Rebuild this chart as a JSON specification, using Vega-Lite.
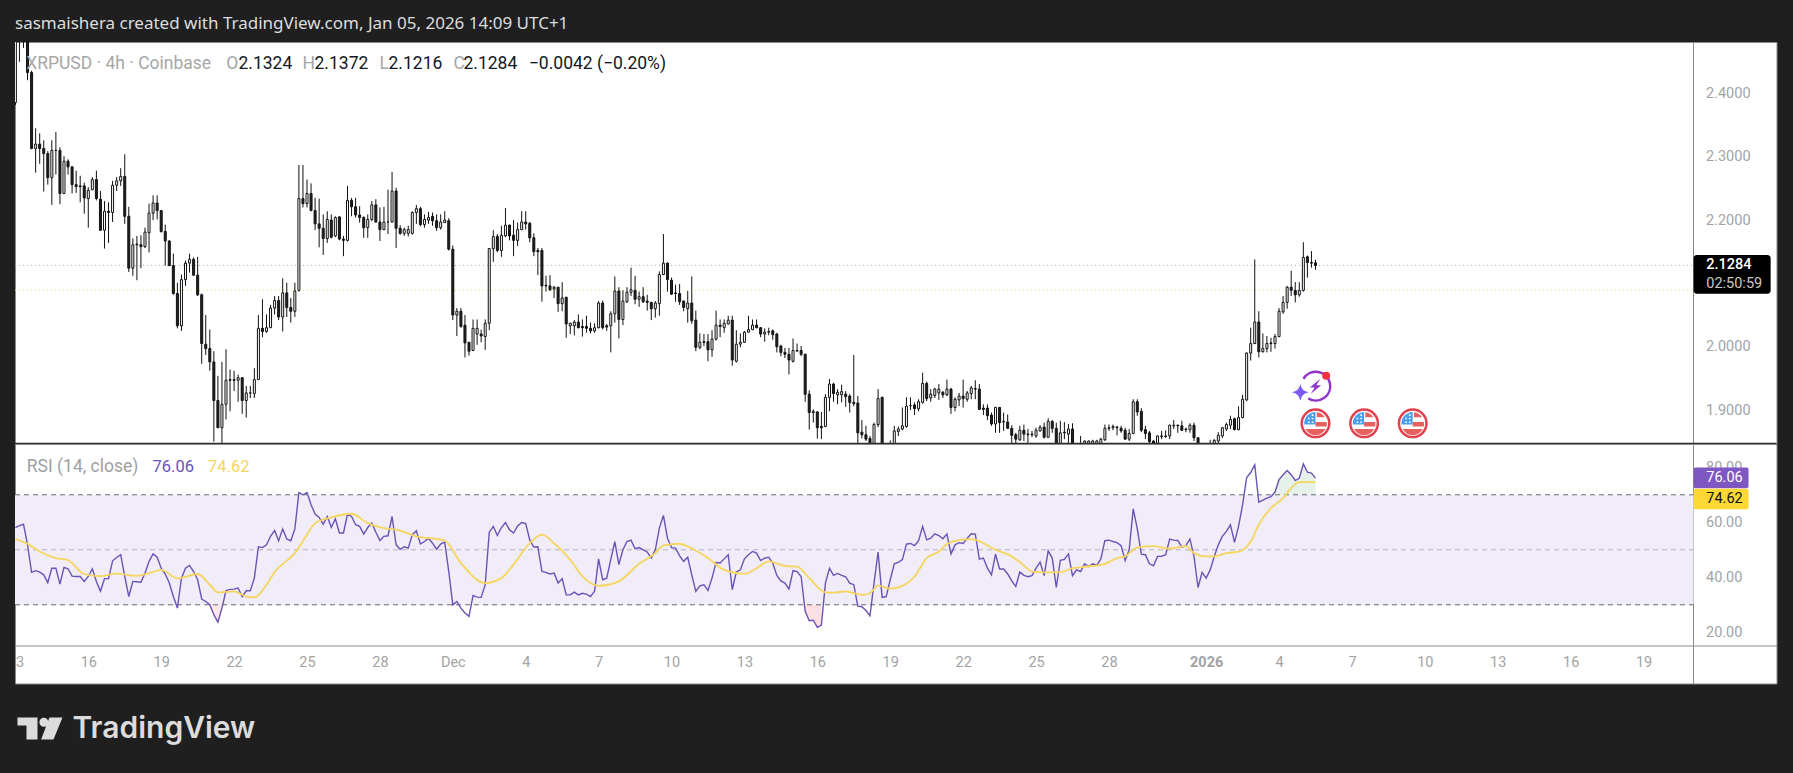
{
"$schema":"https://vega.github.io/schema/vega-lite/v6.json",
"background":"#1f1f1f",
"padding":{"left":11,"top":14,"right":16.5,"bottom":28},
"bounds":"flush",
"spacing":0,
"config":{"view":{"stroke":"#8a8a8a","fill":"#ffffff"},"font":"Roboto"},
"datasets":{
"candles":[
{"t":"2025-11-13T00:00Z","o":2.3855,"h":2.52,"l":2.3818,"c":2.5,"rsi":58.1},
{"t":"2025-11-13T04:00Z","o":2.5,"h":2.52,"l":2.45,"c":2.49,"rsi":58.8},
{"t":"2025-11-13T08:00Z","o":2.51,"h":2.52,"l":2.472,"c":2.5,"rsi":59.3},
{"t":"2025-11-13T12:00Z","o":2.5,"h":2.51,"l":2.421,"c":2.433,"rsi":51.8},
{"t":"2025-11-13T16:00Z","o":2.433,"h":2.436,"l":2.312,"c":2.313,"rsi":41.8},
{"t":"2025-11-13T20:00Z","o":2.313,"h":2.345,"l":2.275,"c":2.32,"rsi":42.4},
{"t":"2025-11-14T00:00Z","o":2.32,"h":2.337,"l":2.289,"c":2.313,"rsi":41.9},
{"t":"2025-11-14T04:00Z","o":2.313,"h":2.326,"l":2.245,"c":2.305,"rsi":40.9},
{"t":"2025-11-14T08:00Z","o":2.305,"h":2.309,"l":2.256,"c":2.267,"rsi":38.1},
{"t":"2025-11-14T12:00Z","o":2.267,"h":2.326,"l":2.224,"c":2.31,"rsi":43.3},
{"t":"2025-11-14T16:00Z","o":2.31,"h":2.339,"l":2.272,"c":2.31,"rsi":43.3},
{"t":"2025-11-14T20:00Z","o":2.31,"h":2.315,"l":2.225,"c":2.242,"rsi":37.5},
{"t":"2025-11-15T00:00Z","o":2.242,"h":2.301,"l":2.241,"c":2.293,"rsi":43.6},
{"t":"2025-11-15T04:00Z","o":2.293,"h":2.296,"l":2.272,"c":2.284,"rsi":43.1},
{"t":"2025-11-15T08:00Z","o":2.284,"h":2.285,"l":2.242,"c":2.256,"rsi":40.4},
{"t":"2025-11-15T12:00Z","o":2.256,"h":2.278,"l":2.243,"c":2.253,"rsi":40.3},
{"t":"2025-11-15T16:00Z","o":2.254,"h":2.27,"l":2.228,"c":2.253,"rsi":40.3},
{"t":"2025-11-15T20:00Z","o":2.254,"h":2.259,"l":2.21,"c":2.235,"rsi":38.5},
{"t":"2025-11-16T00:00Z","o":2.234,"h":2.252,"l":2.188,"c":2.247,"rsi":40.3},
{"t":"2025-11-16T04:00Z","o":2.248,"h":2.268,"l":2.247,"c":2.264,"rsi":43.1},
{"t":"2025-11-16T08:00Z","o":2.264,"h":2.278,"l":2.231,"c":2.234,"rsi":38.5},
{"t":"2025-11-16T12:00Z","o":2.233,"h":2.246,"l":2.183,"c":2.184,"rsi":34.9},
{"t":"2025-11-16T16:00Z","o":2.184,"h":2.23,"l":2.155,"c":2.214,"rsi":39.5},
{"t":"2025-11-16T20:00Z","o":2.214,"h":2.228,"l":2.164,"c":2.212,"rsi":39.5},
{"t":"2025-11-17T00:00Z","o":2.212,"h":2.262,"l":2.197,"c":2.255,"rsi":46.0},
{"t":"2025-11-17T04:00Z","o":2.255,"h":2.268,"l":2.246,"c":2.262,"rsi":47.2},
{"t":"2025-11-17T08:00Z","o":2.262,"h":2.282,"l":2.254,"c":2.269,"rsi":48.2},
{"t":"2025-11-17T12:00Z","o":2.269,"h":2.304,"l":2.194,"c":2.206,"rsi":40.3},
{"t":"2025-11-17T16:00Z","o":2.206,"h":2.221,"l":2.118,"c":2.124,"rsi":33.0},
{"t":"2025-11-17T20:00Z","o":2.124,"h":2.171,"l":2.112,"c":2.161,"rsi":38.5},
{"t":"2025-11-18T00:00Z","o":2.162,"h":2.175,"l":2.105,"c":2.161,"rsi":38.4},
{"t":"2025-11-18T04:00Z","o":2.161,"h":2.176,"l":2.124,"c":2.158,"rsi":38.2},
{"t":"2025-11-18T08:00Z","o":2.158,"h":2.188,"l":2.156,"c":2.181,"rsi":41.5},
{"t":"2025-11-18T12:00Z","o":2.18,"h":2.226,"l":2.149,"c":2.211,"rsi":45.8},
{"t":"2025-11-18T16:00Z","o":2.211,"h":2.239,"l":2.2,"c":2.227,"rsi":48.5},
{"t":"2025-11-18T20:00Z","o":2.227,"h":2.239,"l":2.201,"c":2.215,"rsi":47.3},
{"t":"2025-11-19T00:00Z","o":2.215,"h":2.215,"l":2.18,"c":2.182,"rsi":43.3},
{"t":"2025-11-19T04:00Z","o":2.182,"h":2.193,"l":2.128,"c":2.167,"rsi":41.2},
{"t":"2025-11-19T08:00Z","o":2.167,"h":2.168,"l":2.128,"c":2.128,"rsi":37.9},
{"t":"2025-11-19T12:00Z","o":2.128,"h":2.147,"l":2.082,"c":2.084,"rsi":33.0},
{"t":"2025-11-19T16:00Z","o":2.084,"h":2.101,"l":2.029,"c":2.033,"rsi":28.8},
{"t":"2025-11-19T20:00Z","o":2.033,"h":2.114,"l":2.025,"c":2.106,"rsi":39.7},
{"t":"2025-11-20T00:00Z","o":2.106,"h":2.136,"l":2.096,"c":2.132,"rsi":43.3},
{"t":"2025-11-20T04:00Z","o":2.132,"h":2.147,"l":2.117,"c":2.138,"rsi":44.3},
{"t":"2025-11-20T08:00Z","o":2.138,"h":2.141,"l":2.112,"c":2.113,"rsi":42.1},
{"t":"2025-11-20T12:00Z","o":2.113,"h":2.142,"l":2.08,"c":2.082,"rsi":39.1},
{"t":"2025-11-20T16:00Z","o":2.082,"h":2.084,"l":1.973,"c":2.005,"rsi":32.1},
{"t":"2025-11-20T20:00Z","o":2.004,"h":2.05,"l":1.987,"c":1.997,"rsi":31.2},
{"t":"2025-11-21T00:00Z","o":1.997,"h":2.027,"l":1.962,"c":1.976,"rsi":30.0},
{"t":"2025-11-21T04:00Z","o":1.976,"h":1.993,"l":1.85,"c":1.915,"rsi":26.4},
{"t":"2025-11-21T08:00Z","o":1.915,"h":1.954,"l":1.872,"c":1.872,"rsi":23.7},
{"t":"2025-11-21T12:00Z","o":1.872,"h":1.976,"l":1.848,"c":1.909,"rsi":28.8},
{"t":"2025-11-21T16:00Z","o":1.909,"h":1.996,"l":1.885,"c":1.947,"rsi":35.2},
{"t":"2025-11-21T20:00Z","o":1.948,"h":1.964,"l":1.898,"c":1.947,"rsi":35.6},
{"t":"2025-11-22T00:00Z","o":1.948,"h":1.962,"l":1.93,"c":1.947,"rsi":35.7},
{"t":"2025-11-22T04:00Z","o":1.947,"h":1.956,"l":1.913,"c":1.951,"rsi":36.1},
{"t":"2025-11-22T08:00Z","o":1.951,"h":1.952,"l":1.894,"c":1.915,"rsi":33.0},
{"t":"2025-11-22T12:00Z","o":1.915,"h":1.938,"l":1.888,"c":1.927,"rsi":35.1},
{"t":"2025-11-22T16:00Z","o":1.927,"h":1.938,"l":1.919,"c":1.927,"rsi":35.1},
{"t":"2025-11-22T20:00Z","o":1.926,"h":1.966,"l":1.919,"c":1.948,"rsi":39.7},
{"t":"2025-11-23T00:00Z","o":1.948,"h":2.05,"l":1.948,"c":2.029,"rsi":51.1},
{"t":"2025-11-23T04:00Z","o":2.029,"h":2.075,"l":2.015,"c":2.024,"rsi":50.8},
{"t":"2025-11-23T08:00Z","o":2.024,"h":2.051,"l":2.022,"c":2.03,"rsi":51.8},
{"t":"2025-11-23T12:00Z","o":2.03,"h":2.066,"l":2.03,"c":2.061,"rsi":54.9},
{"t":"2025-11-23T16:00Z","o":2.061,"h":2.08,"l":2.051,"c":2.073,"rsi":57.0},
{"t":"2025-11-23T20:00Z","o":2.073,"h":2.08,"l":2.042,"c":2.047,"rsi":53.3},
{"t":"2025-11-24T00:00Z","o":2.047,"h":2.108,"l":2.024,"c":2.085,"rsi":57.6},
{"t":"2025-11-24T04:00Z","o":2.085,"h":2.101,"l":2.047,"c":2.062,"rsi":53.9},
{"t":"2025-11-24T08:00Z","o":2.062,"h":2.077,"l":2.038,"c":2.056,"rsi":53.3},
{"t":"2025-11-24T12:00Z","o":2.056,"h":2.101,"l":2.047,"c":2.088,"rsi":57.6},
{"t":"2025-11-24T16:00Z","o":2.089,"h":2.287,"l":2.087,"c":2.234,"rsi":70.8},
{"t":"2025-11-24T20:00Z","o":2.234,"h":2.287,"l":2.22,"c":2.226,"rsi":70.0},
{"t":"2025-11-25T00:00Z","o":2.226,"h":2.264,"l":2.22,"c":2.242,"rsi":70.8},
{"t":"2025-11-25T04:00Z","o":2.242,"h":2.258,"l":2.214,"c":2.215,"rsi":66.4},
{"t":"2025-11-25T08:00Z","o":2.215,"h":2.235,"l":2.184,"c":2.194,"rsi":63.0},
{"t":"2025-11-25T12:00Z","o":2.194,"h":2.234,"l":2.157,"c":2.187,"rsi":61.8},
{"t":"2025-11-25T16:00Z","o":2.187,"h":2.209,"l":2.145,"c":2.171,"rsi":59.3},
{"t":"2025-11-25T20:00Z","o":2.171,"h":2.214,"l":2.164,"c":2.201,"rsi":62.1},
{"t":"2025-11-26T00:00Z","o":2.2,"h":2.209,"l":2.171,"c":2.173,"rsi":58.1},
{"t":"2025-11-26T04:00Z","o":2.175,"h":2.206,"l":2.173,"c":2.204,"rsi":61.3},
{"t":"2025-11-26T08:00Z","o":2.205,"h":2.206,"l":2.168,"c":2.17,"rsi":56.1},
{"t":"2025-11-26T12:00Z","o":2.17,"h":2.175,"l":2.143,"c":2.168,"rsi":56.1},
{"t":"2025-11-26T16:00Z","o":2.168,"h":2.254,"l":2.166,"c":2.231,"rsi":63.0},
{"t":"2025-11-26T20:00Z","o":2.231,"h":2.235,"l":2.206,"c":2.221,"rsi":62.1},
{"t":"2025-11-27T00:00Z","o":2.221,"h":2.235,"l":2.204,"c":2.208,"rsi":59.1},
{"t":"2025-11-27T04:00Z","o":2.208,"h":2.222,"l":2.196,"c":2.204,"rsi":58.5},
{"t":"2025-11-27T08:00Z","o":2.204,"h":2.206,"l":2.172,"c":2.188,"rsi":55.7},
{"t":"2025-11-27T12:00Z","o":2.188,"h":2.209,"l":2.172,"c":2.201,"rsi":58.1},
{"t":"2025-11-27T16:00Z","o":2.201,"h":2.23,"l":2.198,"c":2.224,"rsi":59.7},
{"t":"2025-11-27T20:00Z","o":2.224,"h":2.233,"l":2.196,"c":2.197,"rsi":56.4},
{"t":"2025-11-28T00:00Z","o":2.197,"h":2.22,"l":2.167,"c":2.185,"rsi":53.4},
{"t":"2025-11-28T04:00Z","o":2.185,"h":2.221,"l":2.184,"c":2.197,"rsi":54.9},
{"t":"2025-11-28T08:00Z","o":2.197,"h":2.248,"l":2.178,"c":2.197,"rsi":55.1},
{"t":"2025-11-28T12:00Z","o":2.197,"h":2.276,"l":2.196,"c":2.246,"rsi":62.1},
{"t":"2025-11-28T16:00Z","o":2.246,"h":2.251,"l":2.156,"c":2.187,"rsi":51.8},
{"t":"2025-11-28T20:00Z","o":2.187,"h":2.192,"l":2.177,"c":2.179,"rsi":50.2},
{"t":"2025-11-29T00:00Z","o":2.179,"h":2.188,"l":2.175,"c":2.185,"rsi":51.1},
{"t":"2025-11-29T04:00Z","o":2.179,"h":2.191,"l":2.174,"c":2.185,"rsi":50.6},
{"t":"2025-11-29T08:00Z","o":2.179,"h":2.214,"l":2.177,"c":2.212,"rsi":55.5},
{"t":"2025-11-29T12:00Z","o":2.212,"h":2.224,"l":2.194,"c":2.218,"rsi":56.9},
{"t":"2025-11-29T16:00Z","o":2.218,"h":2.221,"l":2.19,"c":2.193,"rsi":52.1},
{"t":"2025-11-29T20:00Z","o":2.193,"h":2.209,"l":2.188,"c":2.201,"rsi":53.0},
{"t":"2025-11-30T00:00Z","o":2.2,"h":2.213,"l":2.194,"c":2.204,"rsi":54.2},
{"t":"2025-11-30T04:00Z","o":2.206,"h":2.212,"l":2.191,"c":2.199,"rsi":52.4},
{"t":"2025-11-30T08:00Z","o":2.199,"h":2.209,"l":2.183,"c":2.188,"rsi":50.2},
{"t":"2025-11-30T12:00Z","o":2.188,"h":2.209,"l":2.185,"c":2.197,"rsi":52.1},
{"t":"2025-11-30T16:00Z","o":2.196,"h":2.214,"l":2.196,"c":2.2,"rsi":52.8},
{"t":"2025-11-30T20:00Z","o":2.199,"h":2.203,"l":2.152,"c":2.154,"rsi":42.1},
{"t":"2025-12-01T00:00Z","o":2.154,"h":2.16,"l":2.042,"c":2.05,"rsi":30.0},
{"t":"2025-12-01T04:00Z","o":2.05,"h":2.061,"l":2.017,"c":2.056,"rsi":31.2},
{"t":"2025-12-01T08:00Z","o":2.056,"h":2.061,"l":2.03,"c":2.032,"rsi":28.8},
{"t":"2025-12-01T12:00Z","o":2.034,"h":2.05,"l":1.983,"c":2.006,"rsi":27.0},
{"t":"2025-12-01T16:00Z","o":2.007,"h":2.007,"l":1.986,"c":1.993,"rsi":25.8},
{"t":"2025-12-01T20:00Z","o":1.994,"h":2.043,"l":1.993,"c":2.029,"rsi":33.4},
{"t":"2025-12-02T00:00Z","o":2.02,"h":2.043,"l":2.003,"c":2.029,"rsi":32.8},
{"t":"2025-12-02T04:00Z","o":2.02,"h":2.027,"l":2.007,"c":2.017,"rsi":32.7},
{"t":"2025-12-02T08:00Z","o":2.016,"h":2.043,"l":1.995,"c":2.037,"rsi":37.3},
{"t":"2025-12-02T12:00Z","o":2.037,"h":2.156,"l":2.026,"c":2.155,"rsi":56.4},
{"t":"2025-12-02T16:00Z","o":2.155,"h":2.184,"l":2.134,"c":2.174,"rsi":58.5},
{"t":"2025-12-02T20:00Z","o":2.174,"h":2.178,"l":2.149,"c":2.152,"rsi":55.2},
{"t":"2025-12-03T00:00Z","o":2.152,"h":2.191,"l":2.142,"c":2.176,"rsi":58.1},
{"t":"2025-12-03T04:00Z","o":2.175,"h":2.219,"l":2.173,"c":2.192,"rsi":59.9},
{"t":"2025-12-03T08:00Z","o":2.192,"h":2.193,"l":2.168,"c":2.175,"rsi":57.3},
{"t":"2025-12-03T12:00Z","o":2.176,"h":2.2,"l":2.143,"c":2.168,"rsi":56.1},
{"t":"2025-12-03T16:00Z","o":2.168,"h":2.196,"l":2.159,"c":2.185,"rsi":58.7},
{"t":"2025-12-03T20:00Z","o":2.185,"h":2.214,"l":2.184,"c":2.197,"rsi":59.9},
{"t":"2025-12-04T00:00Z","o":2.197,"h":2.214,"l":2.185,"c":2.194,"rsi":59.5},
{"t":"2025-12-04T04:00Z","o":2.195,"h":2.197,"l":2.165,"c":2.172,"rsi":53.6},
{"t":"2025-12-04T08:00Z","o":2.172,"h":2.179,"l":2.143,"c":2.15,"rsi":51.0},
{"t":"2025-12-04T12:00Z","o":2.152,"h":2.156,"l":2.113,"c":2.15,"rsi":51.1},
{"t":"2025-12-04T16:00Z","o":2.152,"h":2.156,"l":2.071,"c":2.096,"rsi":42.1},
{"t":"2025-12-04T20:00Z","o":2.097,"h":2.112,"l":2.087,"c":2.096,"rsi":41.8},
{"t":"2025-12-05T00:00Z","o":2.096,"h":2.113,"l":2.088,"c":2.09,"rsi":41.2},
{"t":"2025-12-05T04:00Z","o":2.091,"h":2.096,"l":2.077,"c":2.094,"rsi":41.5},
{"t":"2025-12-05T08:00Z","o":2.094,"h":2.094,"l":2.055,"c":2.068,"rsi":37.9},
{"t":"2025-12-05T12:00Z","o":2.068,"h":2.102,"l":2.056,"c":2.077,"rsi":39.5},
{"t":"2025-12-05T16:00Z","o":2.078,"h":2.079,"l":2.014,"c":2.036,"rsi":33.6},
{"t":"2025-12-05T20:00Z","o":2.033,"h":2.038,"l":2.02,"c":2.037,"rsi":33.6},
{"t":"2025-12-06T00:00Z","o":2.033,"h":2.042,"l":2.018,"c":2.039,"rsi":34.6},
{"t":"2025-12-06T04:00Z","o":2.039,"h":2.051,"l":2.029,"c":2.03,"rsi":33.6},
{"t":"2025-12-06T08:00Z","o":2.032,"h":2.043,"l":2.016,"c":2.03,"rsi":34.2},
{"t":"2025-12-06T12:00Z","o":2.032,"h":2.049,"l":2.022,"c":2.029,"rsi":33.9},
{"t":"2025-12-06T16:00Z","o":2.029,"h":2.038,"l":2.021,"c":2.025,"rsi":33.0},
{"t":"2025-12-06T20:00Z","o":2.025,"h":2.037,"l":2.022,"c":2.03,"rsi":34.9},
{"t":"2025-12-07T00:00Z","o":2.03,"h":2.072,"l":2.029,"c":2.069,"rsi":46.7},
{"t":"2025-12-07T04:00Z","o":2.069,"h":2.073,"l":2.027,"c":2.03,"rsi":39.1},
{"t":"2025-12-07T08:00Z","o":2.033,"h":2.036,"l":2.025,"c":2.031,"rsi":39.7},
{"t":"2025-12-07T12:00Z","o":2.033,"h":2.056,"l":1.991,"c":2.052,"rsi":46.4},
{"t":"2025-12-07T16:00Z","o":2.052,"h":2.111,"l":2.038,"c":2.088,"rsi":53.0},
{"t":"2025-12-07T20:00Z","o":2.088,"h":2.094,"l":2.013,"c":2.043,"rsi":44.6},
{"t":"2025-12-08T00:00Z","o":2.043,"h":2.089,"l":2.034,"c":2.072,"rsi":50.0},
{"t":"2025-12-08T04:00Z","o":2.071,"h":2.094,"l":2.069,"c":2.086,"rsi":53.0},
{"t":"2025-12-08T08:00Z","o":2.086,"h":2.125,"l":2.08,"c":2.09,"rsi":53.5},
{"t":"2025-12-08T12:00Z","o":2.089,"h":2.112,"l":2.067,"c":2.075,"rsi":50.4},
{"t":"2025-12-08T16:00Z","o":2.075,"h":2.087,"l":2.063,"c":2.079,"rsi":50.8},
{"t":"2025-12-08T20:00Z","o":2.079,"h":2.094,"l":2.069,"c":2.071,"rsi":50.0},
{"t":"2025-12-09T00:00Z","o":2.072,"h":2.082,"l":2.057,"c":2.07,"rsi":49.2},
{"t":"2025-12-09T04:00Z","o":2.07,"h":2.071,"l":2.042,"c":2.06,"rsi":47.0},
{"t":"2025-12-09T08:00Z","o":2.06,"h":2.072,"l":2.046,"c":2.069,"rsi":50.0},
{"t":"2025-12-09T12:00Z","o":2.068,"h":2.119,"l":2.049,"c":2.114,"rsi":57.9},
{"t":"2025-12-09T16:00Z","o":2.114,"h":2.178,"l":2.113,"c":2.132,"rsi":62.5},
{"t":"2025-12-09T20:00Z","o":2.132,"h":2.133,"l":2.087,"c":2.106,"rsi":54.2},
{"t":"2025-12-10T00:00Z","o":2.105,"h":2.109,"l":2.082,"c":2.083,"rsi":50.8},
{"t":"2025-12-10T04:00Z","o":2.085,"h":2.098,"l":2.071,"c":2.084,"rsi":50.6},
{"t":"2025-12-10T08:00Z","o":2.084,"h":2.099,"l":2.066,"c":2.071,"rsi":47.8},
{"t":"2025-12-10T12:00Z","o":2.072,"h":2.073,"l":2.056,"c":2.062,"rsi":45.8},
{"t":"2025-12-10T16:00Z","o":2.06,"h":2.088,"l":2.038,"c":2.069,"rsi":47.3},
{"t":"2025-12-10T20:00Z","o":2.069,"h":2.111,"l":2.036,"c":2.041,"rsi":40.9},
{"t":"2025-12-11T00:00Z","o":2.042,"h":2.057,"l":1.993,"c":1.999,"rsi":34.9},
{"t":"2025-12-11T04:00Z","o":1.999,"h":2.021,"l":1.996,"c":2.007,"rsi":36.9},
{"t":"2025-12-11T08:00Z","o":2.008,"h":2.02,"l":2.001,"c":2.007,"rsi":37.3},
{"t":"2025-12-11T12:00Z","o":2.008,"h":2.02,"l":1.977,"c":1.995,"rsi":35.2},
{"t":"2025-12-11T16:00Z","o":1.995,"h":2.026,"l":1.984,"c":2.012,"rsi":39.7},
{"t":"2025-12-11T20:00Z","o":2.012,"h":2.057,"l":2.01,"c":2.034,"rsi":45.4},
{"t":"2025-12-12T00:00Z","o":2.034,"h":2.043,"l":2.015,"c":2.032,"rsi":45.2},
{"t":"2025-12-12T04:00Z","o":2.03,"h":2.043,"l":2.022,"c":2.037,"rsi":46.7},
{"t":"2025-12-12T08:00Z","o":2.036,"h":2.049,"l":2.035,"c":2.042,"rsi":48.2},
{"t":"2025-12-12T12:00Z","o":2.042,"h":2.049,"l":1.97,"c":1.979,"rsi":35.5},
{"t":"2025-12-12T16:00Z","o":1.977,"h":2.026,"l":1.975,"c":2.004,"rsi":41.9},
{"t":"2025-12-12T20:00Z","o":2.004,"h":2.021,"l":1.999,"c":2.007,"rsi":42.7},
{"t":"2025-12-13T00:00Z","o":2.007,"h":2.025,"l":2.006,"c":2.023,"rsi":46.7},
{"t":"2025-12-13T04:00Z","o":2.023,"h":2.049,"l":2.022,"c":2.027,"rsi":48.2},
{"t":"2025-12-13T08:00Z","o":2.027,"h":2.043,"l":2.026,"c":2.034,"rsi":49.4},
{"t":"2025-12-13T12:00Z","o":2.034,"h":2.043,"l":2.029,"c":2.03,"rsi":48.8},
{"t":"2025-12-13T16:00Z","o":2.03,"h":2.031,"l":2.015,"c":2.02,"rsi":46.1},
{"t":"2025-12-13T20:00Z","o":2.02,"h":2.029,"l":2.008,"c":2.023,"rsi":47.0},
{"t":"2025-12-14T00:00Z","o":2.023,"h":2.03,"l":2.018,"c":2.024,"rsi":47.3},
{"t":"2025-12-14T04:00Z","o":2.025,"h":2.027,"l":2.011,"c":2.019,"rsi":45.2},
{"t":"2025-12-14T08:00Z","o":2.02,"h":2.022,"l":1.991,"c":2.0,"rsi":40.7},
{"t":"2025-12-14T12:00Z","o":2.001,"h":2.003,"l":1.985,"c":1.991,"rsi":38.7},
{"t":"2025-12-14T16:00Z","o":1.991,"h":1.998,"l":1.982,"c":1.988,"rsi":37.9},
{"t":"2025-12-14T20:00Z","o":1.988,"h":1.998,"l":1.956,"c":1.979,"rsi":35.7},
{"t":"2025-12-15T00:00Z","o":1.977,"h":2.013,"l":1.975,"c":1.994,"rsi":42.4},
{"t":"2025-12-15T04:00Z","o":1.993,"h":2.005,"l":1.992,"c":1.994,"rsi":42.1},
{"t":"2025-12-15T08:00Z","o":1.994,"h":2.001,"l":1.985,"c":1.988,"rsi":40.3},
{"t":"2025-12-15T12:00Z","o":1.988,"h":1.989,"l":1.913,"c":1.925,"rsi":27.6},
{"t":"2025-12-15T16:00Z","o":1.925,"h":1.931,"l":1.869,"c":1.896,"rsi":24.2},
{"t":"2025-12-15T20:00Z","o":1.896,"h":1.901,"l":1.88,"c":1.898,"rsi":24.4},
{"t":"2025-12-16T00:00Z","o":1.897,"h":1.898,"l":1.855,"c":1.872,"rsi":21.8},
{"t":"2025-12-16T04:00Z","o":1.874,"h":1.897,"l":1.854,"c":1.872,"rsi":22.6},
{"t":"2025-12-16T08:00Z","o":1.874,"h":1.925,"l":1.873,"c":1.92,"rsi":37.9},
{"t":"2025-12-16T12:00Z","o":1.92,"h":1.949,"l":1.898,"c":1.941,"rsi":43.3},
{"t":"2025-12-16T16:00Z","o":1.941,"h":1.943,"l":1.913,"c":1.926,"rsi":40.7},
{"t":"2025-12-16T20:00Z","o":1.924,"h":1.933,"l":1.909,"c":1.928,"rsi":41.4},
{"t":"2025-12-17T00:00Z","o":1.924,"h":1.94,"l":1.912,"c":1.929,"rsi":40.7},
{"t":"2025-12-17T04:00Z","o":1.925,"h":1.93,"l":1.905,"c":1.921,"rsi":40.2},
{"t":"2025-12-17T08:00Z","o":1.922,"h":1.925,"l":1.896,"c":1.912,"rsi":37.9},
{"t":"2025-12-17T12:00Z","o":1.912,"h":1.987,"l":1.906,"c":1.91,"rsi":37.3},
{"t":"2025-12-17T16:00Z","o":1.911,"h":1.922,"l":1.845,"c":1.864,"rsi":29.5},
{"t":"2025-12-17T20:00Z","o":1.865,"h":1.884,"l":1.855,"c":1.861,"rsi":29.3},
{"t":"2025-12-18T00:00Z","o":1.861,"h":1.875,"l":1.851,"c":1.854,"rsi":27.9},
{"t":"2025-12-18T04:00Z","o":1.855,"h":1.859,"l":1.84,"c":1.847,"rsi":26.0},
{"t":"2025-12-18T08:00Z","o":1.846,"h":1.88,"l":1.84,"c":1.877,"rsi":37.9},
{"t":"2025-12-18T12:00Z","o":1.877,"h":1.933,"l":1.873,"c":1.918,"rsi":49.2},
{"t":"2025-12-18T16:00Z","o":1.92,"h":1.921,"l":1.83,"c":1.835,"rsi":32.7},
{"t":"2025-12-18T20:00Z","o":1.835,"h":1.845,"l":1.83,"c":1.84,"rsi":33.0},
{"t":"2025-12-19T00:00Z","o":1.84,"h":1.852,"l":1.835,"c":1.845,"rsi":39.1},
{"t":"2025-12-19T04:00Z","o":1.845,"h":1.875,"l":1.84,"c":1.867,"rsi":44.9},
{"t":"2025-12-19T08:00Z","o":1.866,"h":1.874,"l":1.859,"c":1.87,"rsi":45.4},
{"t":"2025-12-19T12:00Z","o":1.87,"h":1.904,"l":1.868,"c":1.875,"rsi":46.4},
{"t":"2025-12-19T16:00Z","o":1.874,"h":1.92,"l":1.872,"c":1.906,"rsi":52.1},
{"t":"2025-12-19T20:00Z","o":1.907,"h":1.92,"l":1.9,"c":1.907,"rsi":52.3},
{"t":"2025-12-20T00:00Z","o":1.908,"h":1.912,"l":1.892,"c":1.902,"rsi":51.5},
{"t":"2025-12-20T04:00Z","o":1.902,"h":1.917,"l":1.898,"c":1.913,"rsi":53.3},
{"t":"2025-12-20T08:00Z","o":1.912,"h":1.959,"l":1.91,"c":1.942,"rsi":58.5},
{"t":"2025-12-20T12:00Z","o":1.942,"h":1.945,"l":1.914,"c":1.918,"rsi":53.6},
{"t":"2025-12-20T16:00Z","o":1.919,"h":1.933,"l":1.913,"c":1.925,"rsi":54.2},
{"t":"2025-12-20T20:00Z","o":1.923,"h":1.935,"l":1.919,"c":1.933,"rsi":55.8},
{"t":"2025-12-21T00:00Z","o":1.927,"h":1.941,"l":1.916,"c":1.933,"rsi":55.2},
{"t":"2025-12-21T04:00Z","o":1.928,"h":1.93,"l":1.919,"c":1.924,"rsi":54.0},
{"t":"2025-12-21T08:00Z","o":1.924,"h":1.948,"l":1.922,"c":1.933,"rsi":55.7},
{"t":"2025-12-21T12:00Z","o":1.933,"h":1.935,"l":1.894,"c":1.904,"rsi":48.5},
{"t":"2025-12-21T16:00Z","o":1.904,"h":1.92,"l":1.898,"c":1.917,"rsi":51.8},
{"t":"2025-12-21T20:00Z","o":1.916,"h":1.927,"l":1.906,"c":1.922,"rsi":52.6},
{"t":"2025-12-22T00:00Z","o":1.922,"h":1.948,"l":1.904,"c":1.918,"rsi":52.3},
{"t":"2025-12-22T04:00Z","o":1.917,"h":1.93,"l":1.913,"c":1.927,"rsi":54.2},
{"t":"2025-12-22T08:00Z","o":1.926,"h":1.938,"l":1.917,"c":1.935,"rsi":55.8},
{"t":"2025-12-22T12:00Z","o":1.933,"h":1.947,"l":1.917,"c":1.934,"rsi":55.7},
{"t":"2025-12-22T16:00Z","o":1.933,"h":1.941,"l":1.9,"c":1.901,"rsi":46.6},
{"t":"2025-12-22T20:00Z","o":1.903,"h":1.909,"l":1.892,"c":1.901,"rsi":47.0},
{"t":"2025-12-23T00:00Z","o":1.903,"h":1.909,"l":1.884,"c":1.891,"rsi":43.3},
{"t":"2025-12-23T04:00Z","o":1.892,"h":1.896,"l":1.875,"c":1.878,"rsi":40.9},
{"t":"2025-12-23T08:00Z","o":1.878,"h":1.905,"l":1.864,"c":1.904,"rsi":48.4},
{"t":"2025-12-23T12:00Z","o":1.904,"h":1.905,"l":1.864,"c":1.88,"rsi":43.0},
{"t":"2025-12-23T16:00Z","o":1.882,"h":1.896,"l":1.867,"c":1.881,"rsi":43.0},
{"t":"2025-12-23T20:00Z","o":1.881,"h":1.893,"l":1.87,"c":1.871,"rsi":41.2},
{"t":"2025-12-24T00:00Z","o":1.871,"h":1.876,"l":1.845,"c":1.86,"rsi":38.7},
{"t":"2025-12-24T04:00Z","o":1.861,"h":1.864,"l":1.845,"c":1.854,"rsi":36.7},
{"t":"2025-12-24T08:00Z","o":1.853,"h":1.875,"l":1.851,"c":1.868,"rsi":41.9},
{"t":"2025-12-24T12:00Z","o":1.868,"h":1.877,"l":1.851,"c":1.862,"rsi":40.7},
{"t":"2025-12-24T16:00Z","o":1.862,"h":1.87,"l":1.845,"c":1.861,"rsi":40.2},
{"t":"2025-12-24T20:00Z","o":1.862,"h":1.867,"l":1.857,"c":1.861,"rsi":40.6},
{"t":"2025-12-25T00:00Z","o":1.859,"h":1.872,"l":1.856,"c":1.868,"rsi":43.3},
{"t":"2025-12-25T04:00Z","o":1.867,"h":1.876,"l":1.866,"c":1.873,"rsi":45.5},
{"t":"2025-12-25T08:00Z","o":1.873,"h":1.88,"l":1.855,"c":1.857,"rsi":40.6},
{"t":"2025-12-25T12:00Z","o":1.857,"h":1.887,"l":1.856,"c":1.882,"rsi":49.6},
{"t":"2025-12-25T16:00Z","o":1.882,"h":1.884,"l":1.864,"c":1.871,"rsi":47.0},
{"t":"2025-12-25T20:00Z","o":1.871,"h":1.88,"l":1.84,"c":1.845,"rsi":36.3},
{"t":"2025-12-26T00:00Z","o":1.845,"h":1.883,"l":1.842,"c":1.864,"rsi":46.2},
{"t":"2025-12-26T04:00Z","o":1.865,"h":1.881,"l":1.854,"c":1.864,"rsi":46.5},
{"t":"2025-12-26T08:00Z","o":1.862,"h":1.878,"l":1.845,"c":1.87,"rsi":48.5},
{"t":"2025-12-26T12:00Z","o":1.87,"h":1.879,"l":1.835,"c":1.84,"rsi":40.6},
{"t":"2025-12-26T16:00Z","o":1.84,"h":1.848,"l":1.835,"c":1.842,"rsi":42.7},
{"t":"2025-12-26T20:00Z","o":1.842,"h":1.859,"l":1.838,"c":1.843,"rsi":42.1},
{"t":"2025-12-27T00:00Z","o":1.84,"h":1.852,"l":1.835,"c":1.851,"rsi":44.9},
{"t":"2025-12-27T04:00Z","o":1.845,"h":1.852,"l":1.84,"c":1.851,"rsi":43.9},
{"t":"2025-12-27T08:00Z","o":1.845,"h":1.853,"l":1.84,"c":1.851,"rsi":44.9},
{"t":"2025-12-27T12:00Z","o":1.845,"h":1.853,"l":1.84,"c":1.851,"rsi":44.3},
{"t":"2025-12-27T16:00Z","o":1.846,"h":1.856,"l":1.84,"c":1.854,"rsi":46.7},
{"t":"2025-12-27T20:00Z","o":1.853,"h":1.877,"l":1.851,"c":1.871,"rsi":53.3},
{"t":"2025-12-28T00:00Z","o":1.871,"h":1.877,"l":1.867,"c":1.872,"rsi":53.5},
{"t":"2025-12-28T04:00Z","o":1.872,"h":1.877,"l":1.868,"c":1.874,"rsi":53.0},
{"t":"2025-12-28T08:00Z","o":1.873,"h":1.875,"l":1.86,"c":1.872,"rsi":52.6},
{"t":"2025-12-28T12:00Z","o":1.871,"h":1.875,"l":1.864,"c":1.867,"rsi":51.5},
{"t":"2025-12-28T16:00Z","o":1.868,"h":1.872,"l":1.853,"c":1.854,"rsi":46.1},
{"t":"2025-12-28T20:00Z","o":1.854,"h":1.87,"l":1.851,"c":1.863,"rsi":50.0},
{"t":"2025-12-29T00:00Z","o":1.863,"h":1.917,"l":1.862,"c":1.913,"rsi":64.9},
{"t":"2025-12-29T04:00Z","o":1.913,"h":1.917,"l":1.891,"c":1.897,"rsi":57.6},
{"t":"2025-12-29T08:00Z","o":1.898,"h":1.903,"l":1.865,"c":1.868,"rsi":48.4},
{"t":"2025-12-29T12:00Z","o":1.869,"h":1.875,"l":1.854,"c":1.863,"rsi":48.2},
{"t":"2025-12-29T16:00Z","o":1.864,"h":1.867,"l":1.848,"c":1.85,"rsi":44.9},
{"t":"2025-12-29T20:00Z","o":1.851,"h":1.852,"l":1.84,"c":1.846,"rsi":44.2},
{"t":"2025-12-30T00:00Z","o":1.846,"h":1.86,"l":1.84,"c":1.859,"rsi":47.6},
{"t":"2025-12-30T04:00Z","o":1.859,"h":1.867,"l":1.854,"c":1.858,"rsi":47.6},
{"t":"2025-12-30T08:00Z","o":1.858,"h":1.868,"l":1.856,"c":1.859,"rsi":48.2},
{"t":"2025-12-30T12:00Z","o":1.859,"h":1.877,"l":1.854,"c":1.876,"rsi":53.9},
{"t":"2025-12-30T16:00Z","o":1.875,"h":1.884,"l":1.87,"c":1.876,"rsi":53.5},
{"t":"2025-12-30T20:00Z","o":1.876,"h":1.877,"l":1.864,"c":1.875,"rsi":53.4},
{"t":"2025-12-31T00:00Z","o":1.875,"h":1.883,"l":1.867,"c":1.868,"rsi":51.0},
{"t":"2025-12-31T04:00Z","o":1.87,"h":1.872,"l":1.865,"c":1.869,"rsi":51.5},
{"t":"2025-12-31T08:00Z","o":1.869,"h":1.879,"l":1.864,"c":1.876,"rsi":53.9},
{"t":"2025-12-31T12:00Z","o":1.876,"h":1.88,"l":1.851,"c":1.856,"rsi":47.6},
{"t":"2025-12-31T16:00Z","o":1.856,"h":1.857,"l":1.835,"c":1.84,"rsi":36.3},
{"t":"2025-12-31T20:00Z","o":1.84,"h":1.842,"l":1.83,"c":1.835,"rsi":41.8},
{"t":"2026-01-01T00:00Z","o":1.835,"h":1.845,"l":1.83,"c":1.842,"rsi":39.7},
{"t":"2026-01-01T04:00Z","o":1.842,"h":1.853,"l":1.84,"c":1.846,"rsi":42.7},
{"t":"2026-01-01T08:00Z","o":1.846,"h":1.854,"l":1.84,"c":1.852,"rsi":47.6},
{"t":"2026-01-01T12:00Z","o":1.851,"h":1.865,"l":1.848,"c":1.86,"rsi":51.8},
{"t":"2026-01-01T16:00Z","o":1.859,"h":1.873,"l":1.856,"c":1.872,"rsi":54.9},
{"t":"2026-01-01T20:00Z","o":1.87,"h":1.88,"l":1.867,"c":1.877,"rsi":56.7},
{"t":"2026-01-02T00:00Z","o":1.876,"h":1.891,"l":1.87,"c":1.885,"rsi":59.1},
{"t":"2026-01-02T04:00Z","o":1.886,"h":1.888,"l":1.868,"c":1.869,"rsi":52.7},
{"t":"2026-01-02T08:00Z","o":1.869,"h":1.906,"l":1.868,"c":1.888,"rsi":58.5},
{"t":"2026-01-02T12:00Z","o":1.888,"h":1.924,"l":1.887,"c":1.917,"rsi":66.4},
{"t":"2026-01-02T16:00Z","o":1.916,"h":1.991,"l":1.914,"c":1.99,"rsi":76.3},
{"t":"2026-01-02T20:00Z","o":1.99,"h":2.03,"l":1.978,"c":2.005,"rsi":78.1},
{"t":"2026-01-03T00:00Z","o":2.005,"h":2.138,"l":2.004,"c":2.039,"rsi":80.9},
{"t":"2026-01-03T04:00Z","o":2.039,"h":2.056,"l":1.983,"c":1.992,"rsi":67.3},
{"t":"2026-01-03T08:00Z","o":1.992,"h":2.021,"l":1.991,"c":1.997,"rsi":68.1},
{"t":"2026-01-03T12:00Z","o":1.997,"h":2.017,"l":1.991,"c":2.005,"rsi":68.8},
{"t":"2026-01-03T16:00Z","o":2.005,"h":2.014,"l":1.992,"c":2.006,"rsi":69.3},
{"t":"2026-01-03T20:00Z","o":2.005,"h":2.02,"l":1.997,"c":2.016,"rsi":71.0},
{"t":"2026-01-04T00:00Z","o":2.016,"h":2.061,"l":2.015,"c":2.056,"rsi":75.5},
{"t":"2026-01-04T04:00Z","o":2.055,"h":2.08,"l":2.052,"c":2.07,"rsi":77.3},
{"t":"2026-01-04T08:00Z","o":2.07,"h":2.096,"l":2.06,"c":2.094,"rsi":78.8},
{"t":"2026-01-04T12:00Z","o":2.094,"h":2.12,"l":2.08,"c":2.089,"rsi":77.3},
{"t":"2026-01-04T16:00Z","o":2.089,"h":2.102,"l":2.07,"c":2.082,"rsi":75.2},
{"t":"2026-01-04T20:00Z","o":2.082,"h":2.102,"l":2.079,"c":2.089,"rsi":76.1},
{"t":"2026-01-05T00:00Z","o":2.089,"h":2.165,"l":2.087,"c":2.141,"rsi":81.2},
{"t":"2026-01-05T04:00Z","o":2.142,"h":2.144,"l":2.109,"c":2.133,"rsi":78.2},
{"t":"2026-01-05T08:00Z","o":2.133,"h":2.151,"l":2.125,"c":2.132,"rsi":77.9},
{"t":"2026-01-05T12:00Z","o":2.1324,"h":2.1372,"l":2.1216,"c":2.1284,"rsi":76.06}
],
"ma":[
{"t":"2025-11-13T00:00Z","v":54.0},{"t":"2025-11-13T12:00Z","v":52.2},{"t":"2025-11-14T00:00Z","v":49.4},{"t":"2025-11-14T16:00Z","v":47.0},{"t":"2025-11-15T04:00Z","v":46.2},{"t":"2025-11-15T20:00Z","v":41.2},{"t":"2025-11-16T12:00Z","v":40.4},{"t":"2025-11-17T04:00Z","v":41.3},{"t":"2025-11-18T00:00Z","v":40.5},{"t":"2025-11-18T12:00Z","v":41.5},{"t":"2025-11-19T00:00Z","v":42.7},{"t":"2025-11-19T16:00Z","v":39.6},{"t":"2025-11-20T12:00Z","v":41.2},{"t":"2025-11-21T00:00Z","v":37.3},{"t":"2025-11-21T08:00Z","v":34.5},{"t":"2025-11-22T00:00Z","v":34.9},{"t":"2025-11-22T12:00Z","v":33.0},{"t":"2025-11-22T20:00Z","v":32.7},{"t":"2025-11-23T08:00Z","v":37.3},{"t":"2025-11-23T16:00Z","v":41.9},{"t":"2025-11-24T12:00Z","v":48.8},{"t":"2025-11-25T00:00Z","v":55.5},{"t":"2025-11-25T08:00Z","v":59.7},{"t":"2025-11-26T00:00Z","v":61.8},{"t":"2025-11-26T20:00Z","v":63.1},{"t":"2025-11-27T12:00Z","v":59.7},{"t":"2025-11-28T04:00Z","v":57.9},{"t":"2025-11-28T16:00Z","v":57.3},{"t":"2025-11-29T12:00Z","v":54.9},{"t":"2025-11-30T16:00Z","v":53.3},{"t":"2025-12-01T08:00Z","v":45.2},{"t":"2025-12-02T08:00Z","v":37.9},{"t":"2025-12-03T00:00Z","v":39.7},{"t":"2025-12-03T12:00Z","v":44.6},{"t":"2025-12-04T04:00Z","v":52.4},{"t":"2025-12-04T16:00Z","v":55.5},{"t":"2025-12-05T04:00Z","v":52.4},{"t":"2025-12-05T20:00Z","v":46.4},{"t":"2025-12-06T08:00Z","v":40.3},{"t":"2025-12-07T00:00Z","v":36.9},{"t":"2025-12-07T08:00Z","v":37.2},{"t":"2025-12-07T20:00Z","v":38.5},{"t":"2025-12-08T16:00Z","v":44.9},{"t":"2025-12-09T08:00Z","v":48.8},{"t":"2025-12-09T16:00Z","v":51.6},{"t":"2025-12-10T08:00Z","v":52.2},{"t":"2025-12-10T16:00Z","v":51.2},{"t":"2025-12-11T12:00Z","v":47.0},{"t":"2025-12-12T04:00Z","v":42.7},{"t":"2025-12-13T00:00Z","v":41.3},{"t":"2025-12-13T12:00Z","v":43.3},{"t":"2025-12-14T00:00Z","v":45.8},{"t":"2025-12-14T16:00Z","v":44.1},{"t":"2025-12-15T04:00Z","v":43.9},{"t":"2025-12-15T16:00Z","v":39.7},{"t":"2025-12-16T08:00Z","v":34.5},{"t":"2025-12-16T16:00Z","v":34.4},{"t":"2025-12-17T04:00Z","v":34.9},{"t":"2025-12-17T20:00Z","v":33.6},{"t":"2025-12-18T04:00Z","v":34.2},{"t":"2025-12-18T12:00Z","v":37.0},{"t":"2025-12-19T00:00Z","v":35.9},{"t":"2025-12-19T12:00Z","v":36.9},{"t":"2025-12-20T00:00Z","v":40.3},{"t":"2025-12-20T12:00Z","v":47.0},{"t":"2025-12-21T00:00Z","v":49.4},{"t":"2025-12-21T08:00Z","v":52.1},{"t":"2025-12-21T20:00Z","v":53.5},{"t":"2025-12-22T08:00Z","v":53.9},{"t":"2025-12-23T08:00Z","v":50.0},{"t":"2025-12-24T00:00Z","v":47.6},{"t":"2025-12-24T12:00Z","v":44.3},{"t":"2025-12-24T20:00Z","v":42.1},{"t":"2025-12-25T08:00Z","v":41.8},{"t":"2025-12-26T00:00Z","v":41.9},{"t":"2025-12-26T12:00Z","v":43.3},{"t":"2025-12-27T00:00Z","v":43.8},{"t":"2025-12-27T20:00Z","v":44.9},{"t":"2025-12-28T08:00Z","v":47.0},{"t":"2025-12-28T16:00Z","v":47.6},{"t":"2025-12-29T04:00Z","v":50.8},{"t":"2025-12-29T20:00Z","v":51.3},{"t":"2025-12-30T12:00Z","v":50.4},{"t":"2025-12-31T04:00Z","v":51.3},{"t":"2025-12-31T12:00Z","v":48.8},{"t":"2026-01-01T00:00Z","v":47.6},{"t":"2026-01-01T08:00Z","v":47.6},{"t":"2026-01-01T20:00Z","v":48.8},{"t":"2026-01-02T08:00Z","v":49.3},{"t":"2026-01-02T20:00Z","v":53.0},{"t":"2026-01-03T04:00Z","v":59.1},{"t":"2026-01-03T16:00Z","v":65.2},{"t":"2026-01-04T04:00Z","v":68.8},{"t":"2026-01-04T12:00Z","v":72.4},{"t":"2026-01-04T20:00Z","v":74.6},{"t":"2026-01-05T04:00Z","v":74.6},{"t":"2026-01-05T12:00Z","v":74.62}
],
"zones":[
{"t":"2025-11-21T00:00Z","v":30.0,"b":30,"g":"a"},{"t":"2025-11-21T04:00Z","v":26.4,"b":30,"g":"a"},{"t":"2025-11-21T08:00Z","v":23.7,"b":30,"g":"a"},{"t":"2025-11-21T12:00Z","v":28.8,"b":30,"g":"a"},
{"t":"2025-12-15T12:00Z","v":27.6,"b":30,"g":"b"},{"t":"2025-12-15T16:00Z","v":24.2,"b":30,"g":"b"},{"t":"2025-12-15T20:00Z","v":24.4,"b":30,"g":"b"},{"t":"2025-12-16T00:00Z","v":21.8,"b":30,"g":"b"},{"t":"2025-12-16T04:00Z","v":22.6,"b":30,"g":"b"},
{"t":"2026-01-03T20:00Z","v":71.0,"b":70,"g":"c"},{"t":"2026-01-04T00:00Z","v":75.5,"b":70,"g":"c"},{"t":"2026-01-04T04:00Z","v":77.3,"b":70,"g":"c"},{"t":"2026-01-04T08:00Z","v":78.8,"b":70,"g":"c"},{"t":"2026-01-04T12:00Z","v":77.3,"b":70,"g":"c"},{"t":"2026-01-04T16:00Z","v":75.2,"b":70,"g":"c"},{"t":"2026-01-04T20:00Z","v":76.1,"b":70,"g":"c"},{"t":"2026-01-05T00:00Z","v":81.2,"b":70,"g":"c"},{"t":"2026-01-05T04:00Z","v":78.2,"b":70,"g":"c"},{"t":"2026-01-05T08:00Z","v":77.9,"b":70,"g":"c"},{"t":"2026-01-05T12:00Z","v":76.06,"b":70,"g":"c"}
]
},
"vconcat":[
{
"width":1761.5,"height":401.5,
"encoding":{"x":{"field":"t","type":"temporal","title":null,"axis":null,"scale":{"type":"utc","padding":0,"domain":["2025-11-12T23:37:00Z","2026-01-24T11:17:00Z"]}}},
"layer":[
{"data":{"values":[{"t":"2025-11-12T23:37Z","t2":"2026-01-21T01:26Z","p":2.1284}]},"mark":{"type":"rule","color":"#adadad","strokeDash":[1,3],"strokeWidth":1},"encoding":{"x2":{"field":"t2"},"y":{"field":"p","type":"quantitative"}}},
{"data":{"values":[{"t":"2025-11-12T23:37Z","t2":"2026-01-21T01:26Z","p":2.0891}]},"mark":{"type":"rule","color":"#efe05a","strokeDash":[1,3],"strokeWidth":1},"encoding":{"x2":{"field":"t2"},"y":{"field":"p","type":"quantitative"}}},
{"data":{"name":"candles"},"mark":{"type":"rule","color":"#111111","strokeWidth":1,"clip":true},"encoding":{
"y":{"field":"h","type":"quantitative","title":null,"scale":{"domain":[1.8471,2.4813],"nice":false,"zero":false},
"axis":{"orient":"right","offset":-83.5,"values":[1.9,2.0,2.2,2.3,2.4],"format":".4f","grid":false,"ticks":false,"labelPadding":12.5,"labelFontSize":14.5,"labelColor":"#a3a3a3","domainColor":"#8a8a8a","labelFont":"Roboto"}},
"y2":{"field":"l"}}},
{"data":{"name":"candles"},"mark":{"type":"bar","size":2,"stroke":"#111111","strokeWidth":1,"clip":true},"encoding":{
"y":{"field":"o","type":"quantitative"},"y2":{"field":"c"},
"fill":{"condition":{"test":"datum.c>datum.o","value":"#ffffff"},"value":"#222222"}}},
{"data":{"values":[{"t":"2025-11-12T23:37Z","t2":"2026-01-24T11:17Z","p":1.8471}]},"mark":{"type":"rule","color":"#2e2e2e","strokeWidth":1.5},"encoding":{"x2":{"field":"t2"},"y":{"field":"p","type":"quantitative"}}},
{"data":{"values":[{"t":"2026-01-21T01:26Z","t2":"2026-01-24T05:30Z","p":2.1449,"p2":2.0837}]},"mark":{"type":"rect","color":"#000000","cornerRadius":3},"encoding":{"x2":{"field":"t2"},"y":{"field":"p","type":"quantitative"},"y2":{"field":"p2"}}},
{"data":{"values":[{"t":"2026-01-21T13:55Z","p":2.1284,"s":"2.1284"}]},"mark":{"type":"text","align":"left","baseline":"middle","color":"#ffffff","fontSize":14.5,"fontWeight":500},"encoding":{"y":{"field":"p","type":"quantitative"},"text":{"field":"s"}}},
{"data":{"values":[{"t":"2026-01-21T13:55Z","p":2.0995,"s":"02:50:59"}]},"mark":{"type":"text","align":"left","baseline":"middle","color":"#c8c8c8","fontSize":14.5},"encoding":{"y":{"field":"p","type":"quantitative"},"text":{"field":"s"}}},
{"data":{"values":[{"t":"2025-11-12T23:37Z","p":2.5098,"s":"sasmaishera created with TradingView.com, Jan 05, 2026 14:09 UTC+1"}]},"mark":{"type":"text","align":"left","baseline":"middle","color":"#dddddd","fontSize":17,"font":"Noto Sans"},"encoding":{"y":{"field":"p","type":"quantitative"},"text":{"field":"s"}}},
{"data":{"values":[{"t":"2025-11-13T10:40Z","p":2.4461,"s":"XRPUSD · 4h · Coinbase"},{"t":"2025-11-21T16:12Z","p":2.4461,"s":"O"},{"t":"2025-11-24T19:34Z","p":2.4461,"s":"H"},{"t":"2025-11-27T23:37Z","p":2.4461,"s":"L"},{"t":"2025-12-01T00:43Z","p":2.4461,"s":"C"}]},"mark":{"type":"text","align":"left","baseline":"middle","color":"#a6a6a6","fontSize":17.5},"encoding":{"y":{"field":"p","type":"quantitative"},"text":{"field":"s"}}},
{"data":{"values":[{"t":"2025-11-22T04:20Z","p":2.4461,"s":"2.1324"},{"t":"2025-11-25T07:25Z","p":2.4461,"s":"2.1372"},{"t":"2025-11-28T08:30Z","p":2.4461,"s":"2.1216"},{"t":"2025-12-01T10:33Z","p":2.4461,"s":"2.1284"},{"t":"2025-12-04T03:05Z","p":2.4461,"s":"−0.0042 (−0.20%)"}]},"mark":{"type":"text","align":"left","baseline":"middle","color":"#131722","fontSize":17.5},"encoding":{"y":{"field":"p","type":"quantitative"},"text":{"field":"s"}}},
{"data":{"values":[{"t":"2026-01-05T12:00Z","p":1.879},{"t":"2026-01-07T12:00Z","p":1.879},{"t":"2026-01-09T12:00Z","p":1.879}]},"layer":[
{"mark":{"type":"point","filled":true,"shape":"circle","size":760,"fill":"#ffffff","stroke":"#e2404e","strokeWidth":2.5,"opacity":1},"encoding":{"y":{"field":"p","type":"quantitative"}}},
{"mark":{"type":"point","filled":true,"size":625,"color":"#4a9ff0","opacity":1,"shape":"M0 -0.9A0.9 0.9 0 0 0 -0.9 0V0.1H0Z"},"encoding":{"y":{"field":"p","type":"quantitative"}}},
{"mark":{"type":"point","filled":true,"size":625,"color":"#e8605e","opacity":1,"shape":"M0 -0.1H0.9V0.25H0ZM0.1 -0.88A0.9 0.9 0 0 1 0.75 -0.48H0.1ZM-0.8 0.45H0.8A0.9 0.9 0 0 1 -0.8 0.45Z"},"encoding":{"y":{"field":"p","type":"quantitative"}}},
{"mark":{"type":"point","filled":true,"size":625,"color":"#ffffff","opacity":1,"shape":"M-0.6 -0.45h0.13v0.13h-0.13zM-0.3 -0.45h0.13v0.13h-0.13zM-0.6 -0.15h0.13v0.13h-0.13zM-0.3 -0.15h0.13v0.13h-0.13zM-0.3 -0.72h0.13v0.13h-0.13z"},"encoding":{"y":{"field":"p","type":"quantitative"}}}
]},
{"data":{"values":[{"t":"2026-01-05T12:00Z","p":1.938}]},"layer":[
{"mark":{"type":"point","filled":false,"size":1024,"stroke":"#8e35c8","strokeWidth":2.5,"opacity":1,"shape":"M-0.75 -0.45A0.9 0.9 0 1 1 -0.45 0.78"},"encoding":{"y":{"field":"p","type":"quantitative"}}},
{"mark":{"type":"point","filled":true,"size":1024,"color":"#8e35c8","opacity":1,"shape":"M0.3 -0.45L-0.35 0.1H-0.05L-0.3 0.5L0.35 -0.05H0.05Z"},"encoding":{"y":{"field":"p","type":"quantitative"}}}
]},
{"data":{"values":[{"t":"2026-01-05T22:30Z","p":1.954}]},"mark":{"type":"point","filled":true,"shape":"circle","size":64,"color":"#ef3340","opacity":1},"encoding":{"y":{"field":"p","type":"quantitative"}}},
{"data":{"values":[{"t":"2026-01-04T21:00Z","p":1.928}]},"mark":{"type":"point","filled":true,"size":280,"color":"#7c5cf5","opacity":1,"shape":"M0 -1Q0.15 -0.15 1 0Q0.15 0.15 0 1Q-0.15 0.15 -1 0Q-0.15 -0.15 0 -1Z"},"encoding":{"y":{"field":"p","type":"quantitative"}}}
]
},
{
"width":1761.5,"height":239.5,
"encoding":{"x":{"field":"t","type":"temporal","title":null,"scale":{"type":"utc","domain":["2025-11-12T23:37:00Z","2026-01-24T11:17:00Z"]},
"axis":{"orient":"bottom","offset":-38,"values":["2025-11-13T00:00:00Z","2025-11-16T00:00:00Z","2025-11-19T00:00:00Z","2025-11-22T00:00:00Z","2025-11-25T00:00:00Z","2025-11-28T00:00:00Z","2025-12-01T00:00:00Z","2025-12-04T00:00:00Z","2025-12-07T00:00:00Z","2025-12-10T00:00:00Z","2025-12-13T00:00:00Z","2025-12-16T00:00:00Z","2025-12-19T00:00:00Z","2025-12-22T00:00:00Z","2025-12-25T00:00:00Z","2025-12-28T00:00:00Z","2026-01-01T00:00:00Z","2026-01-04T00:00:00Z","2026-01-07T00:00:00Z","2026-01-10T00:00:00Z","2026-01-13T00:00:00Z","2026-01-16T00:00:00Z","2026-01-19T00:00:00Z"],
"labelExpr":"utcdate(datum.value)==1 ? (utcmonth(datum.value)==11 ? 'Dec' : '2026') : (utcmonth(datum.value)==10 && utcdate(datum.value)==13 ? '3' : ''+utcdate(datum.value))",
"labelAlign":{"condition":{"test":"utcmonth(datum.value)==10 && utcdate(datum.value)==13","value":"left"},"value":"center"},
"labelFontWeight":{"condition":{"test":"utcmonth(datum.value)==0 && utcdate(datum.value)==1","value":"bold"},"value":"normal"},
"labelOverlap":false,"labelFlush":false,"labelBound":false,"grid":false,"ticks":false,"labelPadding":10,"labelFontSize":14.5,"labelColor":"#a3a3a3","domainColor":"#8a8a8a"}}},
"layer":[
{"data":{"values":[{"t":"2025-11-12T23:37Z","t2":"2026-01-21T01:26Z","a":30,"b":70}]},"mark":{"type":"rect","color":"#f0edf9"},"encoding":{"x2":{"field":"t2"},
"y":{"field":"a","type":"quantitative","title":null,"scale":{"domain":[1.38,88.47],"nice":false,"zero":false},
"axis":{"orient":"right","offset":-83.5,"values":[20,40,60,80],"format":".2f","grid":false,"ticks":false,"labelPadding":12.5,"labelFontSize":14.5,"labelColor":"#a3a3a3","domainColor":"#8a8a8a"}},
"y2":{"field":"b"}}},
{"data":{"name":"zones"},"mark":{"type":"area","opacity":1},"encoding":{"y":{"field":"v","type":"quantitative"},"y2":{"field":"b"},"detail":{"field":"g"},"color":{"field":"g","type":"nominal","legend":null,"scale":{"domain":["a","b","c"],"range":["#fbe6ea","#fbdfe3","#e6f1ea"]}}}},
{"data":{"values":[{"t":"2025-11-12T23:37Z","t2":"2026-01-21T01:26Z","v":70},{"t":"2025-11-12T23:37Z","t2":"2026-01-21T01:26Z","v":30}]},"mark":{"type":"rule","color":"#6a6a72","strokeDash":[5,4],"strokeWidth":1},"encoding":{"x2":{"field":"t2"},"y":{"field":"v","type":"quantitative"}}},
{"data":{"values":[{"t":"2025-11-12T23:37Z","t2":"2026-01-21T01:26Z","v":50}]},"mark":{"type":"rule","color":"#b4b0bc","strokeDash":[5,4],"strokeWidth":1},"encoding":{"x2":{"field":"t2"},"y":{"field":"v","type":"quantitative"}}},
{"data":{"name":"candles"},"mark":{"type":"line","color":"#6b52b5","strokeWidth":1.4},"encoding":{"y":{"field":"rsi","type":"quantitative"}}},
{"data":{"name":"ma"},"mark":{"type":"line","color":"#f6d55c","strokeWidth":1.8,"interpolate":"monotone"},"encoding":{"y":{"field":"v","type":"quantitative"}}},
{"data":{"values":[{"t":"2026-01-21T01:26Z","t2":"2026-01-23T07:40Z","a":79.93,"b":72.4}]},"mark":{"type":"rect","color":"#7e57c2","cornerRadius":2},"encoding":{"x2":{"field":"t2"},"y":{"field":"a","type":"quantitative"},"y2":{"field":"b"}}},
{"data":{"values":[{"t":"2026-01-21T01:26Z","t2":"2026-01-23T07:40Z","a":72.18,"b":64.76}]},"mark":{"type":"rect","color":"#fdd835","cornerRadius":2},"encoding":{"x2":{"field":"t2"},"y":{"field":"a","type":"quantitative"},"y2":{"field":"b"}}},
{"data":{"values":[{"t":"2026-01-21T13:55Z","v":76.18,"s":"76.06"}]},"mark":{"type":"text","align":"left","baseline":"middle","color":"#ffffff","fontSize":14.5},"encoding":{"y":{"field":"v","type":"quantitative"},"text":{"field":"s"}}},
{"data":{"values":[{"t":"2026-01-21T13:55Z","v":68.55,"s":"74.62"}]},"mark":{"type":"text","align":"left","baseline":"middle","color":"#111111","fontSize":14.5},"encoding":{"y":{"field":"v","type":"quantitative"},"text":{"field":"s"}}},
{"data":{"values":[{"t":"2025-11-13T11:17Z","v":79.93,"s":"RSI (14, close)"}]},"mark":{"type":"text","align":"left","baseline":"middle","color":"#a0a0a0","fontSize":17.5},"encoding":{"y":{"field":"v","type":"quantitative"},"text":{"field":"s"}}},
{"data":{"values":[{"t":"2025-11-18T15:24Z","v":79.93,"s":"76.06"}]},"mark":{"type":"text","align":"left","baseline":"middle","color":"#6b52b5","fontSize":16.5},"encoding":{"y":{"field":"v","type":"quantitative"},"text":{"field":"s"}}},
{"data":{"values":[{"t":"2025-11-20T22:19Z","v":79.93,"s":"74.62"}]},"mark":{"type":"text","align":"left","baseline":"middle","color":"#f6d55c","fontSize":16.5},"encoding":{"y":{"field":"v","type":"quantitative"},"text":{"field":"s"}}},
{"data":{"values":[{"t":"2025-11-15T08:24Z","v":-15.3,"s":"TradingView"}]},"mark":{"type":"text","align":"left","baseline":"middle","color":"#dcdcdc","fontSize":30,"fontWeight":600,"font":"Inter"},"encoding":{"y":{"field":"v","type":"quantitative"},"text":{"field":"s"}}},
{"data":{"values":[{"t":"2025-11-14T00:17Z","v":-15}]},"mark":{"type":"point","filled":true,"size":2025,"color":"#dcdcdc","opacity":1,"shape":"M-1 -0.49H-0.11V0.49H-0.6V-0.13H-1ZM0.373 -0.28A0.2 0.2 0 1 1 -0.027 -0.28A0.2 0.2 0 1 1 0.373 -0.28ZM0.42 -0.49H1L0.6 0.49H0.05Z"},"encoding":{"y":{"field":"v","type":"quantitative"}}}
]
}
]
}
